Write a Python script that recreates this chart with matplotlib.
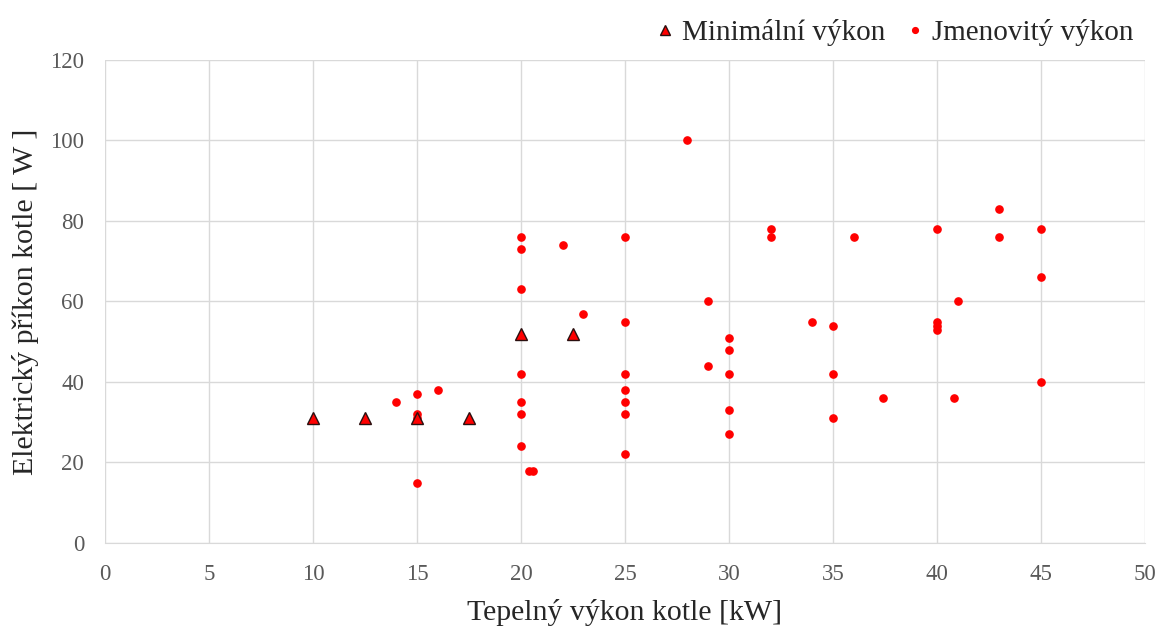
import matplotlib
matplotlib.use("Agg")
import matplotlib.pyplot as plt

plt.rcParams['font.family'] = ['Liberation Serif', 'DejaVu Serif']

# Minimální výkon (triangles)
min_x = [10, 12.5, 15, 17.5, 20, 22.5]
min_y = [31, 31, 31, 31, 52, 52]

# Jmenovitý výkon (circles)
nom_x = [14, 15, 15, 15, 15, 16,
         20, 20, 20, 20, 20, 20, 20, 20.4, 20.6,
         22, 23,
         25, 25, 25, 25, 25, 25, 25,
         28, 29, 29,
         30, 30, 30, 30, 30,
         32, 32, 34, 35, 35, 35, 36, 37.4,
         40, 40, 40, 40, 40.8, 41,
         43, 43, 45, 45, 45]
nom_y = [35, 37, 32, 31, 15, 38,
         76, 73, 63, 42, 35, 32, 24, 18, 18,
         74, 57,
         76, 55, 42, 38, 35, 32, 22,
         100, 60, 44,
         51, 48, 42, 33, 27,
         78, 76, 55, 54, 42, 31, 76, 36,
         78, 55, 54, 53, 36, 60,
         83, 76, 78, 66, 40]

x_ticks = list(range(0, 51, 5))
y_ticks = list(range(0, 121, 20))

fig = plt.figure(figsize=(11.6, 6.28), dpi=100)
ax = fig.add_axes([0.0905, 0.1354, 0.8966, 0.7691])

grid_c = '#d9d9d9'
ax.plot(nom_x, nom_y, linestyle='none', marker='o', markersize=5.2,
        color='#ff0000', markeredgecolor='#ff0000', label='Jmenovitý výkon', zorder=3)
ax.plot(min_x, min_y, linestyle='none', marker='^', markersize=9,
        color='#ff0000', markeredgecolor='#2a1010', markeredgewidth=1.0,
        label='Minimální výkon', zorder=4)

ax.set_xlim(0, 50)
ax.set_ylim(0, 120)
ax.set_xticks(x_ticks)
ax.set_yticks(y_ticks)
ax.grid(True, color=grid_c, linewidth=1.0)
ax.set_axisbelow(True)
for s in ['top', 'right', 'left']:
    ax.spines[s].set_visible(False)
ax.spines['bottom'].set_color(grid_c)
ax.tick_params(length=0, labelsize=16.5, colors='#595959', pad=15)

ax.set_xlabel('Tepelný výkon kotle [kW]', fontsize=21.5, color='#262626', labelpad=10)
ax.set_ylabel('Elektrický příkon kotle [ W ]', fontsize=21.5, color='#262626', labelpad=8)

handles, labels = ax.get_legend_handles_labels()
leg = fig.legend(handles[::-1], labels[::-1], loc='upper right',
                 bbox_to_anchor=(1.0, 1.012), ncol=2, frameon=False,
                 fontsize=21, handletextpad=0.1, columnspacing=0.5,
                 markerscale=0.8, handlelength=1.0)
for t in leg.get_texts():
    t.set_color('#262626')

fig.savefig('out.png', dpi=100)
